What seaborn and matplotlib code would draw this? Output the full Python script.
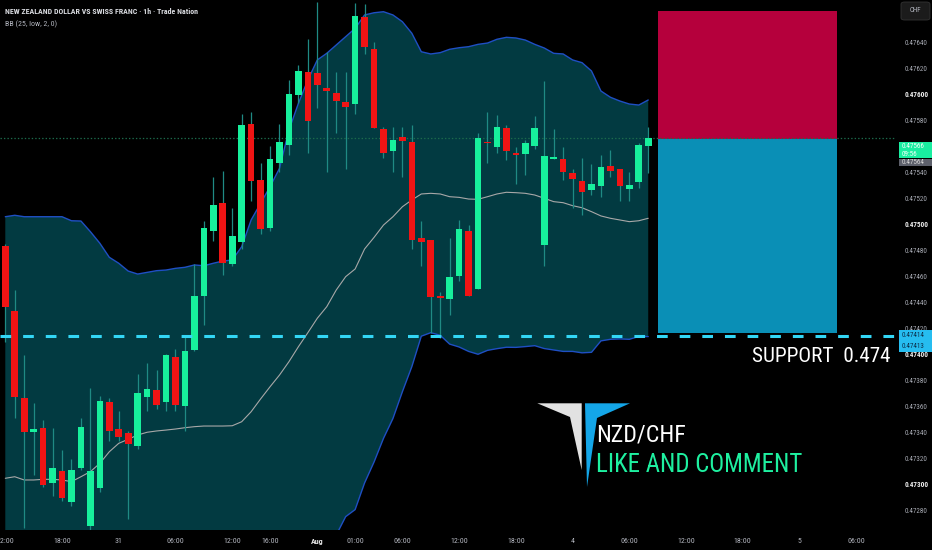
import numpy as np
import pandas as pd
import matplotlib
matplotlib.use("Agg")
import matplotlib.pyplot as plt
from matplotlib import font_manager as fm
from matplotlib.patches import Rectangle, Polygon, FancyBboxPatch
import seaborn as sns

# hourly NZD/CHF candles
opens = [0.47483, 0.47433, 0.47366, 0.47340, 0.47343, 0.47301, 0.47310, 0.47286, 0.47312, 0.47268,
         0.47297, 0.47363, 0.47342, 0.47339, 0.47329, 0.47367, 0.47372, 0.47363, 0.47398, 0.47360,
         0.47403, 0.47445, 0.47495, 0.47516, 0.47469, 0.47486, 0.47577, 0.47534, 0.47497, 0.47547,
         0.47561, 0.47599, 0.47617, 0.47616, 0.47605, 0.47601, 0.47594, 0.47592, 0.47659, 0.47635,
         0.47573, 0.47556, 0.47567, 0.47563, 0.47489, 0.47488, 0.47445, 0.47442, 0.47460, 0.47495,
         0.47450, 0.47563, 0.47559, 0.47574, 0.47555, 0.47554, 0.47560, 0.47484, 0.47550, 0.47550,
         0.47539, 0.47533, 0.47526, 0.47529, 0.47545, 0.47542, 0.47527, 0.47532, 0.47560]
highs = [0.47485, 0.47449, 0.47399, 0.47362, 0.47349, 0.47343, 0.47326, 0.47319, 0.47351, 0.47374,
         0.47368, 0.47366, 0.47356, 0.47341, 0.47385, 0.47393, 0.47388, 0.47400, 0.47404, 0.47413,
         0.47469, 0.47502, 0.47536, 0.47541, 0.47512, 0.47585, 0.47586, 0.47547, 0.47560, 0.47577,
         0.47611, 0.47622, 0.47642, 0.47671, 0.47632, 0.47617, 0.47617, 0.47670, 0.47669, 0.47640,
         0.47575, 0.47575, 0.47575, 0.47576, 0.47502, 0.47488, 0.47448, 0.47489, 0.47503, 0.47499,
         0.47570, 0.47586, 0.47584, 0.47576, 0.47559, 0.47565, 0.47583, 0.47610, 0.47573, 0.47559,
         0.47542, 0.47551, 0.47546, 0.47553, 0.47557, 0.47542, 0.47540, 0.47562, 0.47575]
lows = [0.47409, 0.47351, 0.47266, 0.47307, 0.47298, 0.47291, 0.47287, 0.47283, 0.47311, 0.47265,
        0.47294, 0.47333, 0.47333, 0.47273, 0.47327, 0.47356, 0.47358, 0.47356, 0.47356, 0.47341,
        0.47402, 0.47422, 0.47487, 0.47461, 0.47468, 0.47481, 0.47518, 0.47492, 0.47495, 0.47540,
        0.47553, 0.47593, 0.47555, 0.47589, 0.47540, 0.47570, 0.47542, 0.47585, 0.47631, 0.47574,
        0.47551, 0.47540, 0.47536, 0.47481, 0.47468, 0.47416, 0.47412, 0.47430, 0.47456, 0.47445,
        0.47450, 0.47547, 0.47555, 0.47549, 0.47531, 0.47538, 0.47558, 0.47468, 0.47550, 0.47534,
        0.47512, 0.47507, 0.47522, 0.47521, 0.47536, 0.47518, 0.47518, 0.47528, 0.47539]
closes = [0.47436, 0.47367, 0.47340, 0.47342, 0.47299, 0.47312, 0.47289, 0.47311, 0.47344, 0.47310,
          0.47364, 0.47341, 0.47336, 0.47331, 0.47370, 0.47373, 0.47361, 0.47399, 0.47361, 0.47402,
          0.47445, 0.47497, 0.47515, 0.47470, 0.47491, 0.47576, 0.47533, 0.47496, 0.47550, 0.47563,
          0.47600, 0.47618, 0.47579, 0.47607, 0.47602, 0.47595, 0.47590, 0.47660, 0.47636, 0.47574,
          0.47555, 0.47565, 0.47564, 0.47488, 0.47486, 0.47444, 0.47443, 0.47459, 0.47496, 0.47445,
          0.47566, 0.47562, 0.47575, 0.47556, 0.47553, 0.47562, 0.47574, 0.47552, 0.47551, 0.47540,
          0.47535, 0.47525, 0.47531, 0.47544, 0.47541, 0.47529, 0.47530, 0.47561, 0.47566]

# Bollinger band (25, low, 2) as drawn
bb_upper = [0.475056, 0.475067, 0.475056, 0.475056, 0.475056, 0.475056, 0.475056, 0.475025, 0.475023, 0.474941,
            0.474852, 0.474744, 0.474698, 0.474638, 0.474615, 0.474628, 0.474641, 0.474646, 0.474659, 0.474667,
            0.474685, 0.474679, 0.474698, 0.474715, 0.474723, 0.474825, 0.475031, 0.475159, 0.475287, 0.475428,
            0.475723, 0.475928, 0.476108, 0.476262, 0.476313, 0.476377, 0.476441, 0.476505, 0.476608, 0.476625,
            0.476633, 0.476608, 0.476556, 0.476467, 0.476325, 0.476308, 0.476318, 0.476344, 0.476356, 0.476364,
            0.476382, 0.476392, 0.476421, 0.476436, 0.476431, 0.476415, 0.476382, 0.476354, 0.476313, 0.476308,
            0.476262, 0.476241, 0.476177, 0.476023, 0.475975, 0.475946, 0.475923, 0.475915, 0.475954]
bb_basis = [0.473044, 0.473056, 0.473031, 0.473031, 0.473036, 0.473036, 0.473031, 0.473018, 0.473056, 0.473095,
            0.473159, 0.473248, 0.473313, 0.473344, 0.473377, 0.473398, 0.473408, 0.473415, 0.473423, 0.473433,
            0.473441, 0.473446, 0.473446, 0.473446, 0.473448, 0.473479, 0.473556, 0.473654, 0.473748, 0.473838,
            0.473941, 0.474056, 0.474164, 0.474275, 0.474364, 0.474492, 0.474595, 0.474654, 0.474808, 0.474897,
            0.474992, 0.475056, 0.475133, 0.475185, 0.475231, 0.475236, 0.475231, 0.475210, 0.475205, 0.475192,
            0.475190, 0.475210, 0.475231, 0.475244, 0.475241, 0.475236, 0.475223, 0.475198, 0.475172, 0.475164,
            0.475141, 0.475125, 0.475095, 0.475062, 0.475044, 0.475031, 0.475018, 0.475025, 0.475044]

# x axis labels (bar index, text)
time_ticks = [0, 6, 12, 18, 24, 28, 33, 37, 42, 48, 54, 60, 66, 72, 78, 84, 90]
time_labels = ["12:00", "18:00", "31", "06:00", "12:00", "16:00", "Aug", "01:00", "06:00",
               "12:00", "18:00", "4", "06:00", "12:00", "18:00", "5", "06:00"]
# 0.47560 sits under the last-price tag, so it is left out
price_ticks = [0.47280, 0.47300, 0.47320, 0.47340, 0.47360, 0.47380, 0.47400, 0.47420, 0.47440,
               0.47460, 0.47480, 0.47500, 0.47520, 0.47540, 0.47580, 0.47600, 0.47620, 0.47640]
bold_ticks = ["0.47300", "0.47400", "0.47500", "0.47600"]

# short position drawn on the right
box_start, box_end = 69, 88
stop_price, entry_price, target_price = 0.476641, 0.475652, 0.474158
support = 0.47414
low_mark = 0.47413
prev_mark = 0.47564

df = pd.DataFrame({"open": opens, "high": highs, "low": lows, "close": closes,
                   "upper": bb_upper, "basis": bb_basis})
df["idx"] = np.arange(len(df))
df["lower"] = 2 * df["basis"] - df["upper"]
up = df["close"] >= df["open"]

GREEN, RED, WICK = "#17f09c", "#f01414", "#1f8a84"
W, H = 932, 550


def has_font(name):
    try:
        fm.findfont(fm.FontProperties(family=name), fallback_to_default=False)
        return True
    except ValueError:
        return False


narrow = next((f for f in ["Liberation Sans Narrow", "DejaVu Sans Condensed", "Roboto Condensed",
                           "Noto Sans Condensed", "Open Sans Condensed", "Liberation Sans"]
               if has_font(f)), "DejaVu Sans")

sns.set_theme(style="dark", rc={"axes.facecolor": "black", "figure.facecolor": "black",
                                 "lines.scale_dashes": False})
plt.rcParams["font.family"] = [narrow, "DejaVu Sans"]

fig = plt.figure(figsize=(W / 100, H / 100), dpi=100)
renderer = fig.canvas.get_renderer()


def size_for(sample, width, weight="normal"):
    probe = fig.text(0, 0, sample, fontsize=10, fontweight=weight)
    w = probe.get_window_extent(renderer).width
    probe.remove()
    return 10 * width / w


ax = fig.add_axes([0, 20 / H, 895 / W, 530 / H])
ax.set_facecolor("black")

ax.fill_between(df["idx"], df["lower"], df["upper"], color="#023a41", lw=0, zorder=1)
sns.lineplot(x=df["idx"], y=df["upper"], color="#1f4fc4", lw=1, ax=ax, zorder=2)
sns.lineplot(x=df["idx"], y=df["lower"], color="#1f4fc4", lw=1, ax=ax, zorder=2)
sns.lineplot(x=df["idx"], y=df["basis"], color="#a8a8a8", lw=0.8, ax=ax, zorder=2)

ax.fill_between([box_start, box_end], entry_price, stop_price, color="#b5003c", lw=0, zorder=2)
ax.fill_between([box_start, box_end], target_price, entry_price, color="#0a8fb6", lw=0, zorder=2)

ax.axhline(df["close"].iloc[-1], color="#1c6b4c", lw=0.9, ls=(0, (1, 1.5)), zorder=2.5)

ax.vlines(df["idx"], df["low"], df["high"], color=WICK, lw=0.9, zorder=3)
body = np.maximum((df["close"] - df["open"]).abs(), 0.000012)
ax.bar(df["idx"], body, bottom=np.minimum(df["open"], df["close"]), width=0.7,
       color=np.where(up, GREEN, RED), linewidth=0, zorder=4)

ax.axhline(support, color="#33d6f5", lw=2.2, ls=(0, (7.7, 8.6)), zorder=6)

ax.set_xlim(-0.56, 94.1)
ax.set_ylim(0.4726462, 0.4767231)
for s in ax.spines.values():
    s.set_visible(False)
ax.grid(False)
ax.set_xlabel("")
ax.set_ylabel("")

xsize = size_for("06:00", 17)
ax.set_xticks(time_ticks, time_labels)
ax.tick_params(axis="x", length=0, pad=5.5, labelsize=xsize, colors="#b2b5be")
for t in ax.get_xticklabels():
    if t.get_text() == "Aug":
        t.set_fontweight("bold")
        t.set_color("#e6e6e6")

ysize = size_for("0.47640", 23)
ax.yaxis.tick_right()
ax.set_yticks(price_ticks, [f"{p:.5f}" for p in price_ticks])
ax.tick_params(axis="y", length=0, pad=7, labelsize=ysize, colors="#a8abb4")
for t in ax.get_yticklabels():
    if t.get_text() in bold_ticks:
        t.set_fontweight("bold")
        t.set_color("#eeeeee")


def ypx(price):
    return H - ax.transData.transform((0, price))[1]


def tag(top, bottom, lines, fc, tc):
    fig.add_artist(Rectangle((899 / W, 1 - bottom / H), 33 / W, (bottom - top) / H,
                             transform=fig.transFigure, fc=fc, ec="none", zorder=10))
    step = (bottom - top) / len(lines)
    for k, s in enumerate(lines):
        fig.text(902 / W, 1 - (top + step * (k + 0.5)) / H, s, color=tc, fontsize=ysize,
                 va="center", ha="left", zorder=11)


yp = ypx(df["close"].iloc[-1])
tag(yp + 4, yp + 20, [f"{df['close'].iloc[-1]:.5f}", "09:56"], "#19eea0", "#f4fff9")
tag(yp + 20.5, yp + 28, [f"{prev_mark:.5f}"], "#5d606b", "#d6d6d6")
ys = ypx(support)
tag(ys - 5.5, ys + 5, [f"{support:.5f}"], "#26bdf0", "#0b2e4a")
tag(ys + 5.5, ys + 16, [f"{low_mark:.5f}"], "#26bdf0", "#0b2e4a")

fig.add_artist(FancyBboxPatch((901 / W, 1 - 20 / H), 29 / W, 18 / H, boxstyle="round,pad=0,rounding_size=0.004",
                              transform=fig.transFigure, fc="#1b1b1b", ec="#333333", lw=0.6, zorder=10))
fig.text(915.5 / W, 1 - 11 / H, "CHF", color="#b2b5be", fontsize=ysize, ha="center", va="center", zorder=11)

title = "NEW ZEALAND DOLLAR VS SWISS FRANC \u00b7 1h \u00b7 Trade Nation"
fig.text(5 / W, 1 - 12 / H, title, color="#d9dbe0", fontweight="bold", va="center",
         fontsize=size_for(title, 191, "bold"))
fig.text(5 / W, 1 - 24 / H, "BB (25, low, 2, 0)", color="#b2b5be", va="center",
         fontsize=size_for("BB (25, low, 2, 0)", 52))

fig.text(751.5 / W, 1 - 361.7 / H, "SUPPORT  0.474", color="white", va="baseline",
         fontsize=size_for("SUPPORT  0.474", 139))
fig.text(596.5 / W, 1 - 441.7 / H, "NZD/CHF", color="white", va="baseline",
         fontsize=size_for("NZD/CHF", 90))
fig.text(596.5 / W, 1 - 471.7 / H, "LIKE AND COMMENT", color="#1ef0a0", va="baseline",
         fontsize=size_for("LIKE AND COMMENT", 207))

logo_grey = [(537.3, 403.3), (581.7, 403.3), (581.7, 470), (570, 417)]
logo_blue = [(585, 403.3), (630, 403.3), (597, 418), (587, 487)]
for pts, col in [(logo_grey, "#e2e2e2"), (logo_blue, "#14a6e8")]:
    fig.add_artist(Polygon([(x / W, 1 - y / H) for x, y in pts], closed=True,
                           transform=fig.transFigure, fc=col, ec="none", zorder=9))

fig.savefig("out.png", dpi=100, facecolor="black")
